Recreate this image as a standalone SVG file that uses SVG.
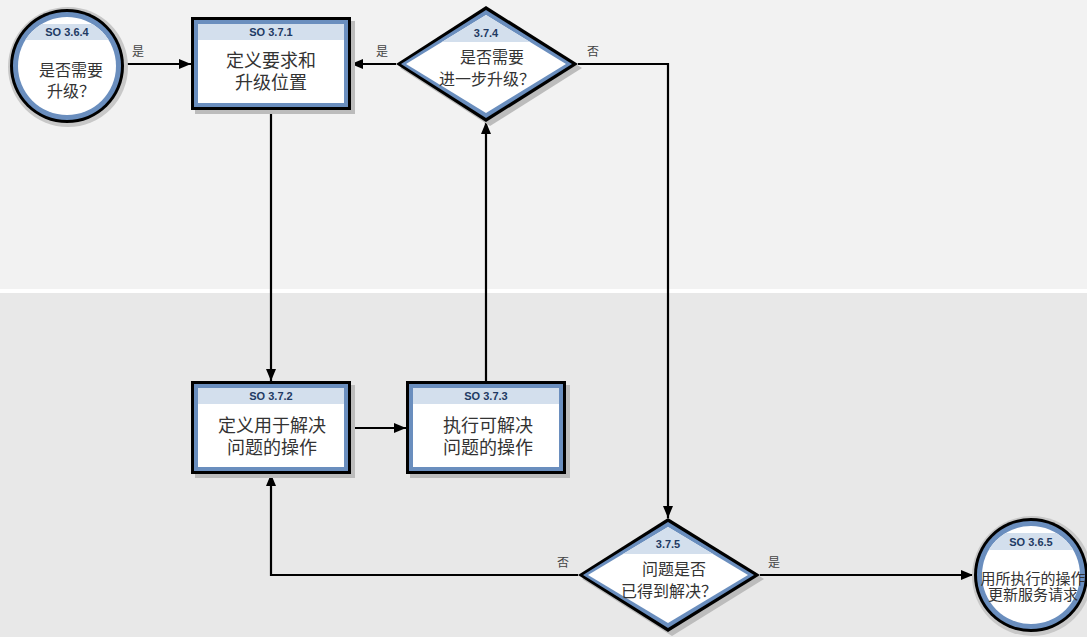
<svg xmlns="http://www.w3.org/2000/svg" width="1087" height="637" viewBox="0 0 1087 637">
  <defs>
    <style>
      .hdr { font-family: "Liberation Sans", Arial, sans-serif; font-size: 11px; font-weight: bold; fill: #1f3a63; text-anchor: middle; }
      .txt { font-family: "Liberation Serif", "Noto Sans CJK SC", serif; font-size: 18px; fill: #333333; text-anchor: middle; }
      .sm { font-size: 16px; }
      .lbl { font-family: "Liberation Serif", "Noto Sans CJK SC", serif; font-size: 12px; fill: #444444; text-anchor: middle; }
      .edge { fill: none; stroke: #000000; stroke-width: 2.2; }
      .shadow { fill: #bcbcbc; }
      .frame { fill: #000000; }
      .blue { fill: #6a8ebe; }
      .white { fill: #ffffff; }
      .band { fill: #d3dfed; }
    </style>
    <marker id="arrow" viewBox="0 0 12 10" refX="12" refY="5" markerWidth="12" markerHeight="10" markerUnits="userSpaceOnUse" orient="auto">
      <path d="M0,0 L12,5 L0,10 z" fill="#000000"/>
    </marker>
    <clipPath id="clipC1"><circle cx="67" cy="66" r="49"/></clipPath>
    <clipPath id="clipC2"><circle cx="1031" cy="575" r="49"/></clipPath>
    <clipPath id="clipD1"><polygon points="486,15 566,64 486,113 406,64"/></clipPath>
    <clipPath id="clipD2"><polygon points="668,527 748,575 668,623 588,575"/></clipPath>
  </defs>

  <!-- swimlane background -->
  <rect x="0" y="0" width="1087" height="289" fill="#f2f2f2"/>
  <rect x="0" y="289" width="1087" height="4" fill="#ffffff"/>
  <rect x="0" y="293" width="1087" height="344" fill="#e8e8e8"/>

  <!-- connectors -->
  <g id="connectors">
    <path class="edge" d="M124,64 L191,64" marker-end="url(#arrow)"/>
    <path class="edge" d="M396,64 L351,64" marker-end="url(#arrow)"/>
    <path class="edge" d="M578,64 L668,64 L668,518" marker-end="url(#arrow)"/>
    <path class="edge" d="M271,110 L271,381" marker-end="url(#arrow)"/>
    <path class="edge" d="M351,428 L406,428" marker-end="url(#arrow)"/>
    <path class="edge" d="M486,381 L486,122" marker-end="url(#arrow)"/>
    <path class="edge" d="M578,575 L271,575 L271,474" marker-end="url(#arrow)"/>
    <path class="edge" d="M760,575 L973,575" marker-end="url(#arrow)"/>
    <text class="lbl" x="138" y="56">是</text>
    <text class="lbl" x="382" y="56">是</text>
    <text class="lbl" x="593" y="56">否</text>
    <text class="lbl" x="563" y="567">否</text>
    <text class="lbl" x="774" y="567">是</text>
  </g>

  <!-- start event -->
  <g id="so364">
    <circle cx="68" cy="67" r="60" fill="#c8c8c8"/>
    <circle cx="67" cy="66" r="57" class="frame"/>
    <circle cx="67" cy="66" r="54" class="blue"/>
    <circle cx="67" cy="66" r="49" class="white"/>
    <rect x="10" y="24" width="114" height="16" class="band" clip-path="url(#clipC1)"/>
    <text class="hdr" x="67" y="36">SO 3.6.4</text>
    <text class="txt sm" x="71" y="76">是否需要</text>
    <text class="txt sm" x="71" y="97">升级？</text>
  </g>

  <!-- task 3.7.1 -->
  <g id="so371">
    <rect x="195" y="21" width="160" height="93" class="shadow"/>
    <rect x="191" y="17" width="160" height="93" class="frame"/>
    <rect x="194" y="20" width="154" height="87" class="blue"/>
    <rect x="198" y="24" width="146" height="79" class="white"/>
    <rect x="198" y="24" width="146" height="16" class="band"/>
    <text class="hdr" x="271" y="36">SO 3.7.1</text>
    <text class="txt" x="271" y="67">定义要求和</text>
    <text class="txt" x="271" y="89">升级位置</text>
  </g>

  <!-- decision 3.7.4 -->
  <g id="d374">
    <polygon points="490,10 582,68 490,126 400,68" class="shadow"/>
    <polygon points="486,6 578,64 486,122 396,64" class="frame"/>
    <polygon points="486,10 572,64 486,118 401,64" class="blue"/>
    <polygon points="486,15 566,64 486,113 406,64" class="white"/>
    <rect x="400" y="15" width="180" height="27" class="band" clip-path="url(#clipD1)"/>
    <text class="hdr" x="486" y="37">3.7.4</text>
    <text class="txt sm" x="492" y="63">是否需要</text>
    <text class="txt sm" x="487" y="85">进一步升级？</text>
  </g>

  <!-- task 3.7.2 -->
  <g id="so372">
    <rect x="195" y="385" width="160" height="93" class="shadow"/>
    <rect x="191" y="381" width="160" height="93" class="frame"/>
    <rect x="194" y="384" width="154" height="87" class="blue"/>
    <rect x="198" y="388" width="146" height="79" class="white"/>
    <rect x="198" y="388" width="146" height="16" class="band"/>
    <text class="hdr" x="271" y="400">SO 3.7.2</text>
    <text class="txt" x="272" y="432">定义用于解决</text>
    <text class="txt" x="272" y="454">问题的操作</text>
  </g>

  <!-- task 3.7.3 -->
  <g id="so373">
    <rect x="410" y="385" width="160" height="93" class="shadow"/>
    <rect x="406" y="381" width="160" height="93" class="frame"/>
    <rect x="409" y="384" width="154" height="87" class="blue"/>
    <rect x="413" y="388" width="146" height="79" class="white"/>
    <rect x="413" y="388" width="146" height="16" class="band"/>
    <text class="hdr" x="486" y="400">SO 3.7.3</text>
    <text class="txt" x="488" y="432">执行可解决</text>
    <text class="txt" x="488" y="454">问题的操作</text>
  </g>

  <!-- decision 3.7.5 -->
  <g id="d375">
    <polygon points="672,522 764,579 672,636 582,579" class="shadow"/>
    <polygon points="668,518 760,575 668,632 578,575" class="frame"/>
    <polygon points="668,522 754,575 668,628 583,575" class="blue"/>
    <polygon points="668,527 748,575 668,623 588,575" class="white"/>
    <rect x="580" y="527" width="180" height="27" class="band" clip-path="url(#clipD2)"/>
    <text class="hdr" x="668" y="548">3.7.5</text>
    <text class="txt sm" x="674" y="575">问题是否</text>
    <text class="txt sm" x="669" y="597">已得到解决？</text>
  </g>

  <!-- end event -->
  <g id="so365">
    <circle cx="1032" cy="576" r="60" fill="#c8c8c8"/>
    <circle cx="1031" cy="575" r="57" class="frame"/>
    <circle cx="1031" cy="575" r="54" class="blue"/>
    <circle cx="1031" cy="575" r="49" class="white"/>
    <rect x="975" y="533" width="114" height="17" class="band" clip-path="url(#clipC2)"/>
    <text class="hdr" x="1031" y="546">SO 3.6.5</text>
    <text class="txt" x="1033" y="584" style="font-size:15px">用所执行的操作</text>
    <text class="txt" x="1033" y="600" style="font-size:15px">更新服务请求</text>
  </g>
</svg>
